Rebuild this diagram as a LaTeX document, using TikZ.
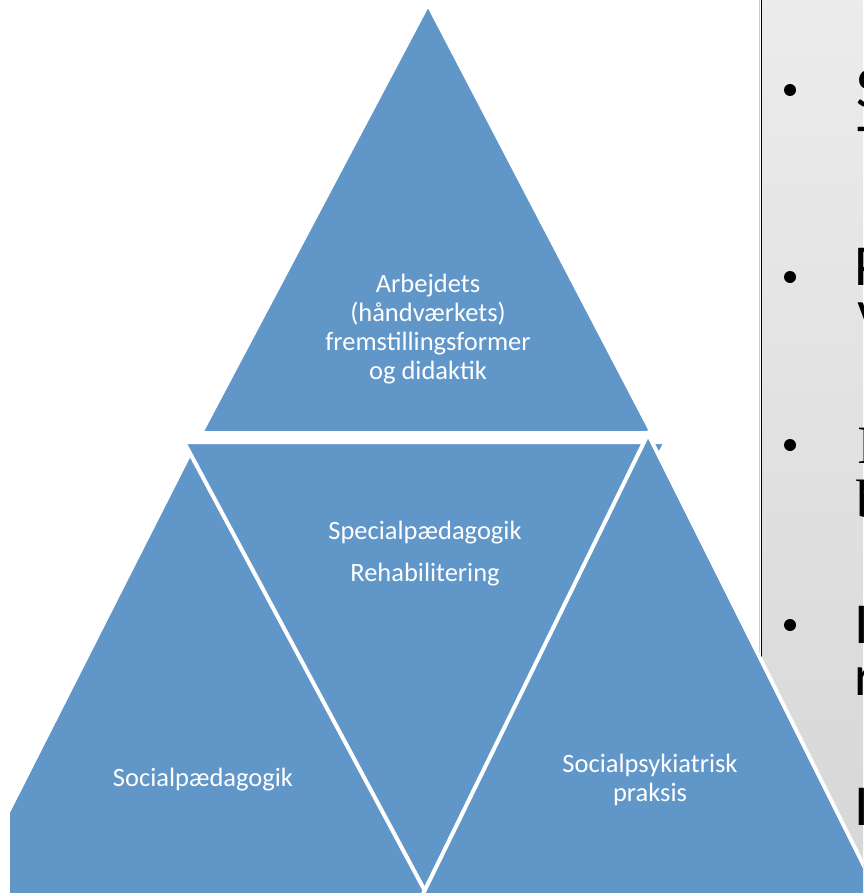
\documentclass[tikz,border=0pt]{standalone}
\usepackage{fontspec}
\setmainfont{Carlito}
\newfontfamily\serifbig{Liberation Serif}
\definecolor{triblue}{RGB}{97,150,201}
\begin{document}
\begin{tikzpicture}[x=1pt,y=-1pt,
  tri/.style={fill=triblue,draw=white,line width=4pt,line join=miter},
  lbl/.style={text=white,font=\fontsize{26.5}{29}\selectfont,align=center,inner sep=0pt},
  bigtxt/.style={font=\fontsize{58}{58}\selectfont,anchor=base west,inner sep=0pt,text=black},
  bulletdot/.style={circle,fill=black,minimum size=12pt,inner sep=0pt}]
\useasboundingbox (0,0) rectangle (863,893);
\clip (0,0) rectangle (863,893);
% right panel
\shade[top color=gray!15,bottom color=gray!32] (762,-5) rectangle (870,900);
\draw[gray!40,line width=1pt] (759,-5) -- (759,900);
\draw[black,line width=1.6pt] (761.5,-5) -- (761.5,900);
\node[bulletdot] (b1) at (790,90) {};
\node[bulletdot] (b2) at (790,277) {};
\node[bulletdot] (b3) at (790,445) {};
\node[bulletdot] (b4) at (790,625) {};
\node[bigtxt] (t1) at (856,108) {S};
\node[bigtxt] (t2) at (857,165) {T};
\node[bigtxt] (t3) at (854,285) {P};
\node[bigtxt] (t4) at (857,330) {v};
\node[bigtxt,font=\serifbig\fontsize{54}{54}\selectfont] (t5) at (857,463) {I};
\node[bigtxt,font=\serifbig\fontsize{54}{54}\selectfont] (t6) at (856,517) {b};
\node[bigtxt] (t7) at (854,643) {I};
\node[bigtxt] (t8) at (854,695) {r};
\node[bigtxt] (t9) at (854,825) {I};
% left triangle
\fill[triblue] (195,448) -- (10,813) -- (10,900) -- (470,900) -- cycle;
% middle inverted triangle
\filldraw[tri] (184,442) -- (666,442) -- (425,891) -- cycle;
% top triangle
\filldraw[tri] (428,4) -- (652,433) -- (201,433) -- cycle;
% right triangle
\filldraw[tri] (648,434) -- (881,900) -- (420,900) -- cycle;
% labels
\node[lbl] (ltop) at (428,329) {Arbejdets\\(håndværkets)\\fremstillingsformer\\og didaktik};
\node[lbl] (lmid1) at (425,533) {Specialpædagogik};
\node[lbl] (lmid2) at (425,575) {Rehabilitering};
\node[lbl] (lleft) at (203,780) {Socialpædagogik};
\node[lbl] (lright) at (650,780) {Socialpsykiatrisk\\praksis};
\end{tikzpicture}
\end{document}
